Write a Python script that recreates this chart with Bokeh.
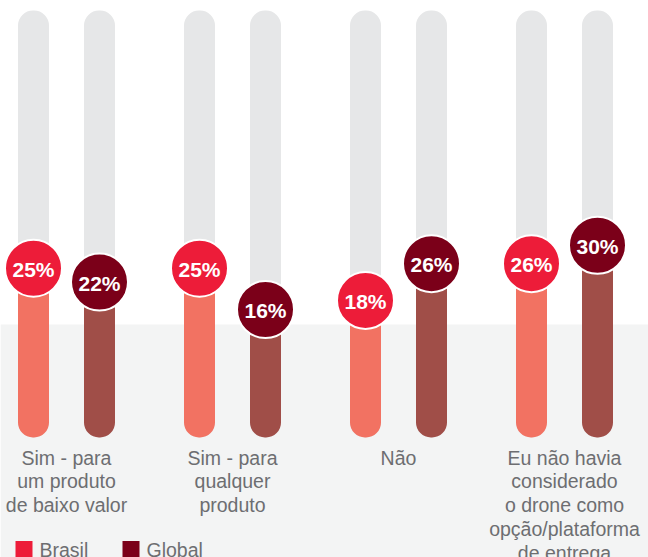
from bokeh.plotting import figure
from bokeh.models import Range1d, ColumnDataSource
from bokeh.embed import file_html
from bokeh.resources import INLINE
from bokeh.core.properties import value

# ---- data ----
categories = [
    "Sim - para\num produto\nde baixo valor",
    "Sim - para\nqualquer\nproduto",
    "Não",
    "Eu não havia\nconsiderado\no drone como\nopção/plataforma\nde entrega",
]
brasil = [25, 25, 18, 26]
global_vals = [22, 16, 26, 30]
series_names = ["Brasil", "Global"]

# ---- style / layout constants ----
W, H = 648, 557
PX_PER_UNIT = 4.59
ZERO_PX = 382.5
GROUP_PX = 166.0
FIRST_PX = 66.0

C_BR_DOT, C_GL_DOT = "#ed1c39", "#7b0019"
C_BR_BAR, C_GL_BAR = "#f27262", "#a04e48"
C_TRACK = "#e6e7e8"
C_BAND = "#f3f4f4"
C_TEXT = "#6d6e71"
FONT = "Liberation Sans"

x_start = -FIRST_PX / GROUP_PX
x_end = (W - FIRST_PX) / GROUP_PX
y_end = ZERO_PX / PX_PER_UNIT
y_start = -(H - ZERO_PX) / PX_PER_UNIT


def dx(px):
    return x_start + px / GROUP_PX


def dy(py):
    return y_end - py / PX_PER_UNIT


BAR_BOTTOM = dy(437)
TRACK_TOP = dy(10)
BAND_TOP = dy(324)
OFF = 33.0 / GROUP_PX
BAR_W = 31.0 / GROUP_PX

p = figure(width=W, height=H, x_range=Range1d(x_start, x_end), y_range=Range1d(y_start, y_end),
           output_backend="svg", toolbar_location=None, min_border=0)
p.axis.visible = False
p.grid.visible = False
p.outline_line_color = None
p.background_fill_color = "white"
p.border_fill_color = "white"

# lower band
p.quad(left=[x_start], right=[x_end], bottom=[y_start], top=[BAND_TOP],
       fill_color=C_BAND, line_color=None)

idx = list(range(len(categories)))
xb = [i - OFF for i in idx]
xg = [i + OFF for i in idx]

src = ColumnDataSource(dict(
    xb=xb, xg=xg, brasil=brasil, glob=global_vals,
    lb=[f"{v}%" for v in brasil], lg=[f"{v}%" for v in global_vals],
))

# tracks
p.vbar(x=xb + xg, width=BAR_W, bottom=BAR_BOTTOM, top=TRACK_TOP,
       fill_color=C_TRACK, line_color=None, border_radius=15)

# value bars
p.vbar(x="xb", width=BAR_W, bottom=BAR_BOTTOM, top="brasil", source=src,
       fill_color=C_BR_BAR, line_color=None, border_radius=15)
p.vbar(x="xg", width=BAR_W, bottom=BAR_BOTTOM, top="glob", source=src,
       fill_color=C_GL_BAR, line_color=None, border_radius=15)

# dots
p.scatter(x="xb", y="brasil", source=src, size=57, fill_color=C_BR_DOT,
          line_color="white", line_width=2)
p.scatter(x="xg", y="glob", source=src, size=57, fill_color=C_GL_DOT,
          line_color="white", line_width=2)

for xcol, lcol, ycol in (("xb", "lb", "brasil"), ("xg", "lg", "glob")):
    p.text(x=xcol, y=ycol, text=lcol, source=src, text_align="center",
           text_baseline="middle", text_color="white", text_font=value(FONT),
           text_font_style="bold", text_font_size="21px", y_offset=1)

# category labels
p.text(x=idx, y=[BAR_BOTTOM] * len(idx), text=categories, text_align="center",
       text_baseline="top", text_color=C_TEXT, text_font=value(FONT),
       text_font_size="19.5px", text_line_height=1.085, y_offset=9)

# legend
leg_sq_px = [23.5, 130.5]
leg_colors = [C_BR_DOT, C_GL_DOT]
p.rect(x=[dx(v) for v in leg_sq_px], y=[dy(549)] * 2, width=17, height=17,
       width_units="screen", height_units="screen", fill_color=leg_colors, line_color=None)
p.text(x=[dx(v + 15.5) for v in leg_sq_px], y=[dy(538)] * 2, text=series_names,
       text_align="left", text_baseline="top", text_color=C_TEXT,
       text_font=value(FONT), text_font_size="19.5px")

open("out.html", "w").write(file_html(p, INLINE))
